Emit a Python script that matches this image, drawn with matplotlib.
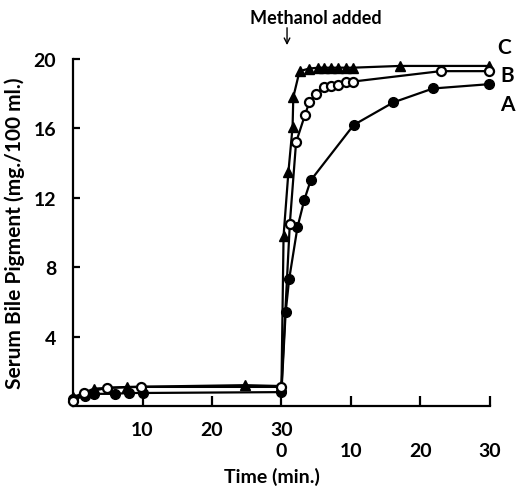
import matplotlib.pyplot as plt

# time axis runs 0-30 min before methanol, then 30-60 = 0-30 min after
A_t = [0, 1.7, 3, 6, 8, 10, 30, 30.6, 31.1, 32.3, 33.3, 34.2, 40.4, 46.1, 51.8, 59.9]
A_y = [0.4, 0.55, 0.7, 0.7, 0.75, 0.75, 0.8, 5.4, 7.3, 10.3, 11.9, 13.0, 16.2, 17.5, 18.3, 18.55]

B_t = [0, 1.6, 4.9, 9.8, 30, 31.2, 32.1, 33.4, 34.0, 35.0, 36.1, 37.1, 38.1, 39.3, 40.3, 52.9, 59.9]
B_y = [0.3, 0.75, 1.05, 1.1, 1.1, 10.5, 15.2, 16.8, 17.5, 18.0, 18.4, 18.45, 18.5, 18.7, 18.7, 19.3, 19.3]

C_t = [0, 3, 7.8, 24.8, 30, 30.3, 31.0, 31.6, 31.7, 32.6, 34.0, 35.3, 36.1, 37.1, 38.1, 39.3, 40.3, 47, 59.9]
C_y = [0.5, 1.0, 1.1, 1.2, 1.15, 9.8, 13.5, 16.1, 17.8, 19.3, 19.45, 19.5, 19.5, 19.5, 19.5, 19.5, 19.5, 19.6, 19.6]

x_ticks = [10, 20, 30, 40, 50, 60]
# post-methanol labels sit one line lower
x_labels = ["10", "20", "30\n0", "\n10", "\n20", "\n30"]
y_ticks = [4, 8, 12, 16, 20]

plt.rcParams["font.family"] = ["Lato", "DejaVu Sans"]
plt.rcParams["font.weight"] = "bold"
plt.rcParams["axes.labelweight"] = "bold"

fig = plt.figure(figsize=(5.16, 4.89), dpi=100)
ax = fig.add_axes([0.1415, 0.1677, 0.808, 0.7096])

ax.plot(C_t, C_y, color="black", lw=1.6, marker="^", ms=6.5, mfc="black",
        clip_on=False, zorder=3)
ax.plot(A_t, A_y, color="black", lw=1.6, marker="o", ms=7, mfc="black",
        clip_on=False, zorder=4)
ax.plot(B_t, B_y, color="black", lw=1.6, marker="o", ms=6.5, mfc="white",
        mew=1.6, clip_on=False, zorder=5)

ax.set_xlim(0, 60)
ax.set_ylim(0, 20)
ax.spines["top"].set_visible(False)
ax.spines["right"].set_visible(False)
for s in ("left", "bottom"):
    ax.spines[s].set_linewidth(1.6)

ax.set_xticks(x_ticks)
ax.set_xticklabels(x_labels, fontsize=14, linespacing=1.3, va="top")
ax.set_yticks(y_ticks)
ax.set_yticklabels([str(v) for v in y_ticks], fontsize=14)
ax.tick_params(axis="x", direction="in", length=7, width=1.6, pad=11)
ax.tick_params(axis="y", direction="in", length=5, width=1.6, pad=12)

ax.set_xlabel("Time (min.)", fontsize=14)
ax.xaxis.set_label_coords(0.478, -0.175)
ax.set_ylabel("Serum Bile Pigment (mg./100 ml.)", fontsize=15, labelpad=6)

ax.text(62, 20.7, "C", fontsize=15, va="center", ha="center", clip_on=False)
ax.text(62.5, 19.1, "B", fontsize=15, va="center", ha="center", clip_on=False)
ax.text(62.5, 17.4, "A", fontsize=15, va="center", ha="center", clip_on=False)

ax.text(34.9, 22.4, "Methanol added", fontsize=13, fontweight="bold",
        ha="center", va="center", clip_on=False)
ax.annotate("", xy=(30.8, 20.8), xytext=(30.8, 21.8), annotation_clip=False,
            arrowprops=dict(arrowstyle="->", lw=1.0, color="black",
                            shrinkA=0, shrinkB=0))

fig.savefig("out.png", dpi=100)
